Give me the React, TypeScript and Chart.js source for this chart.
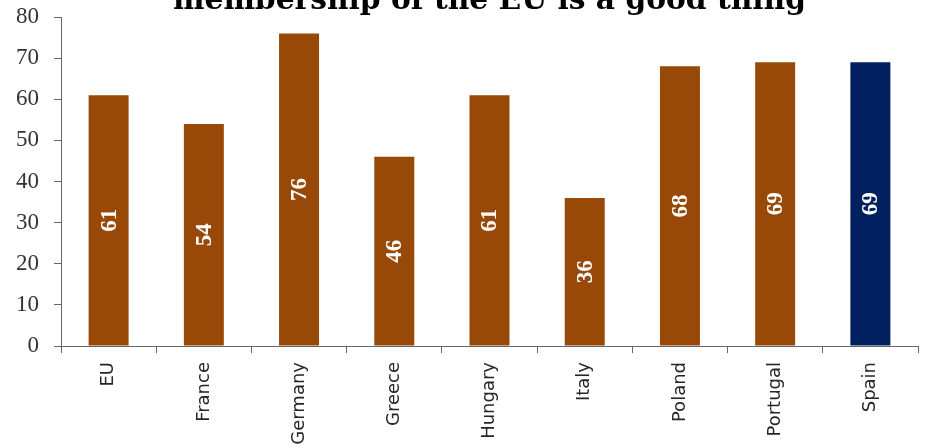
import React, { useEffect, useRef } from "react";
import { Chart, registerables } from "chart.js";

Chart.register(...registerables);

const TITLE_TEXT = "membership of the EU is a good thing";
const categories = ["EU", "France", "Germany", "Greece", "Hungary", "Italy", "Poland", "Portugal", "Spain"];
const values = [61, 54, 76, 46, 61, 36, 68, 69, 69];
const barColors = ["#984807", "#984807", "#984807", "#984807", "#984807", "#984807", "#984807", "#984807", "#002060"];
const yMin = 0;
const yMax = 80;
const yStep = 10;

const titlePlugin = {
  id: "clippedTitle",
  afterDraw(chart: any) {
    const ctx = chart.ctx;
    const area = chart.chartArea;
    ctx.save();
    ctx.font = "bold 100px 'DejaVu Serif'";
    const w100 = ctx.measureText(TITLE_TEXT).width;
    const size = (633 / w100) * 100;
    ctx.font = `bold ${size}px 'DejaVu Serif'`;
    ctx.fillStyle = "#000000";
    ctx.textAlign = "center";
    ctx.textBaseline = "alphabetic";
    ctx.fillText(TITLE_TEXT, (area.left + area.right) / 2, 9);
    ctx.restore();
  },
};

const barLabelPlugin = {
  id: "barLabels",
  afterDatasetsDraw(chart: any) {
    const ctx = chart.ctx;
    const meta = chart.getDatasetMeta(0);
    ctx.save();
    ctx.font = "bold 23px 'Liberation Serif'";
    ctx.fillStyle = "#ffffff";
    ctx.textAlign = "center";
    ctx.textBaseline = "middle";
    meta.data.forEach((el: any, i: number) => {
      const p = el.getProps(["x", "y", "base"], true);
      const cy = (p.y + p.base) / 2;
      ctx.save();
      ctx.translate(p.x, cy);
      ctx.rotate(-Math.PI / 2);
      ctx.fillText(String(values[i]), 0, 1);
      ctx.restore();
    });
    ctx.restore();
  },
};

export default function App() {
  const ref = useRef<HTMLCanvasElement | null>(null);
  useEffect(() => {
    if (!ref.current) return;
    const chart = new Chart(ref.current, {
      type: "bar",
      data: {
        labels: categories,
        datasets: [
          {
            data: values,
            backgroundColor: barColors,
            borderWidth: 0,
            categoryPercentage: 1,
            barPercentage: 0.42,
          },
        ],
      },
      options: {
        animation: false,
        responsive: false,
        maintainAspectRatio: false,
        layout: { padding: { top: 17, right: 8, left: 0, bottom: 0 } },
        plugins: {
          legend: { display: false },
          title: { display: false },
          tooltip: { enabled: false },
        },
        scales: {
          x: {
            offset: true,
            grid: {
              offset: true,
              drawOnChartArea: false,
              drawTicks: true,
              tickLength: 7,
              color: "#666666",
            },
            border: { color: "#666666", width: 1 },
            ticks: {
              autoSkip: false,
              minRotation: 90,
              maxRotation: 90,
              padding: 9,
              color: "#262626",
              font: { family: "'DejaVu Sans'", size: 18 },
            },
            afterFit(scale: any) {
              scale.height = 102;
              scale.paddingLeft = 0;
              scale.paddingRight = 0;
            },
          },
          y: {
            min: yMin,
            max: yMax,
            grid: {
              drawOnChartArea: false,
              drawTicks: true,
              tickLength: 7,
              color: "#666666",
            },
            border: { color: "#666666", width: 1 },
            ticks: {
              stepSize: yStep,
              padding: 15,
              color: "#333333",
              font: { family: "'Liberation Serif'", size: 23 },
            },
            afterFit(scale: any) {
              scale.width = 61;
              scale.paddingTop = 0;
              scale.paddingBottom = 0;
            },
          },
        },
      },
      plugins: [titlePlugin, barLabelPlugin],
    });
    return () => chart.destroy();
  }, []);
  return (
    <div style={{ position: "fixed", top: 0, left: 0, width: 926, height: 448, overflow: "hidden", background: "#ffffff" }}>
      <canvas ref={ref} width={926} height={448} style={{ display: "block", width: 926, height: 448 }} />
    </div>
  );
}
